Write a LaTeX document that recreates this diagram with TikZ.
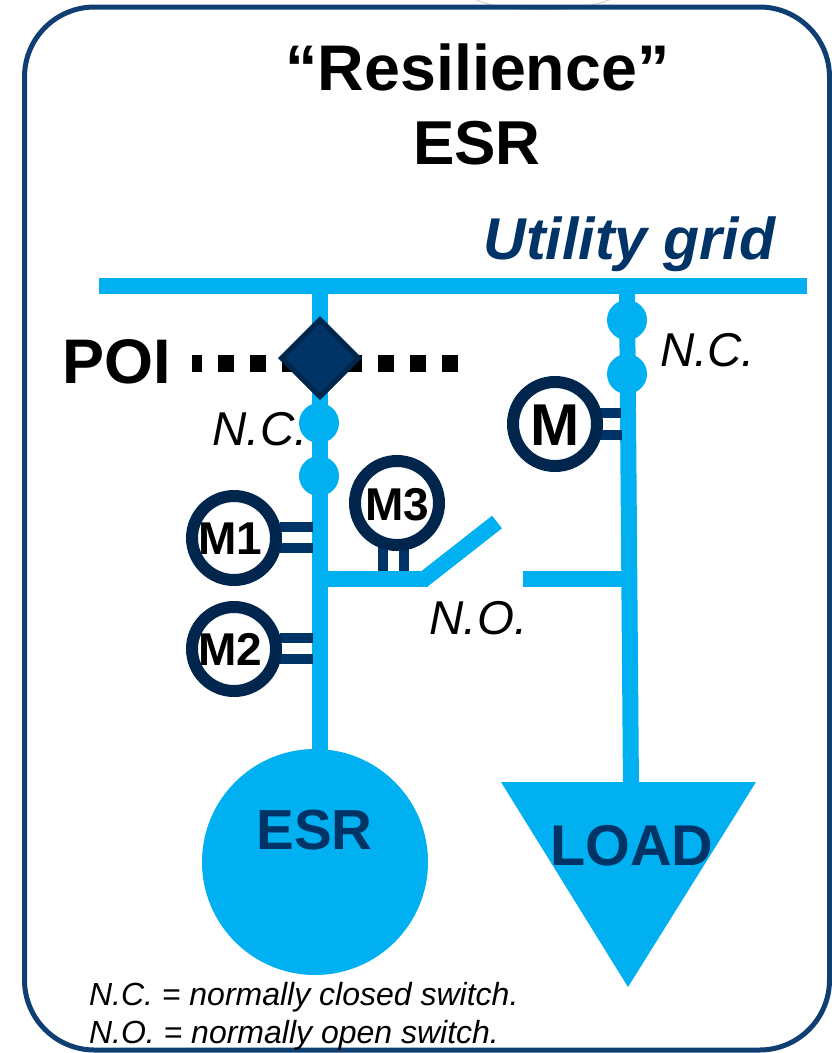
\documentclass[tikz,border=0pt]{standalone}
\usepackage{fontspec}
\setmainfont{Liberation Sans}
\usetikzlibrary{shapes.geometric,calc}
\definecolor{cy}{HTML}{00B0F0}
\definecolor{navy}{HTML}{00264D}
\definecolor{bar}{HTML}{003366}
\definecolor{frm}{HTML}{0F3E73}
\newcommand{\fsz}[1]{\fontsize{#1}{#1}\selectfont}
\tikzset{
  wire/.style={draw=cy,line width=16pt},
  twin/.style={draw=bar,line width=10pt},
  meter/.style={circle,draw=navy,line width=12pt,fill=white,minimum size=84pt,inner sep=0pt,outer sep=0pt},
  sw/.style={circle,fill=cy,minimum size=40pt,inner sep=0pt,outer sep=0pt},
  lab/.style={inner sep=0pt,outer sep=0pt,anchor=center},
  ital/.style={lab,font=\fsz{47.5}\itshape},
  mtxt/.style={lab,font=\fsz{46}\bfseries},
  foot/.style={lab,anchor=west,font=\fsz{32}\itshape}
}
\begin{document}
\begin{tikzpicture}[x=1pt,y=-1pt]
\useasboundingbox (0,0) rectangle (832,1053);
\draw[black!18,line width=1pt] (470,-3) .. controls (500,14) and (585,14) .. (615,-3);
\node[draw=frm,line width=5pt,rounded corners=70pt,minimum width=805pt,minimum height=1043pt,inner sep=0pt] (frame) at (427,528.5) {};
% nodes
\coordinate (busL) at (99,286); \coordinate (busR) at (807,286);
\coordinate (t1) at (320,286); \coordinate (t2) at (627,286);
\node[circle,fill=cy,minimum size=226pt,inner sep=0pt] (esr) at (315,862) {};
\coordinate (la) at (501,782); \coordinate (lb) at (756,782); \coordinate (lc) at (628,987);
\fill[cy] (la) -- (lb) -- (lc) -- cycle;
\coordinate (esrtop) at (320,760); \coordinate (loadtop) at (631,790);
\draw[wire] (busL) -- (busR);
\draw[wire] (t1) -- (esrtop);
\draw[wire] (t2) -- (loadtop);
% POI
\coordinate (dl) at (192,363.5); \coordinate (dr) at (458,363.5);
\draw[black,line width=17pt,dash pattern=on 16pt off 16pt,dash phase=6pt] (dl) -- (dr);
\node[diamond,draw=navy,fill=bar,line width=5pt,minimum width=79pt,minimum height=79pt,inner sep=0pt] (poi) at (320,358) {};
\node[sw] (sa) at (319,423) {};
\node[sw] (sb) at (319,476) {};
\node[sw] (sc) at (627,320) {};
\node[sw] (sd) at (627,374) {};
% branch
\coordinate (jn) at (320,579); \coordinate (hinge) at (428,579);
\coordinate (bl0) at (423,580); \coordinate (bl1) at (497,522);
\coordinate (st0) at (523,579); \coordinate (st1) at (627,579);
\draw[twin] (280,527) coordinate (a1) -- (313,527) coordinate (a2);
\draw[twin] (280,548) coordinate (a3) -- (313,548) coordinate (a4);
\draw[twin] (280,638) coordinate (b1) -- (313,638) coordinate (b2);
\draw[twin] (280,659) coordinate (b3) -- (313,659) coordinate (b4);
\draw[twin] (383,545) coordinate (c1) -- (383,572) coordinate (c2);
\draw[twin] (404,545) coordinate (c3) -- (404,572) coordinate (c4);
\draw[twin] (600,413) coordinate (d1) -- (621,413) coordinate (d2);
\draw[twin] (600,435) coordinate (d3) -- (622,435) coordinate (d4);
\draw[wire] (jn) -- (hinge);
\draw[wire] (bl0) -- (bl1);
\draw[wire] (st0) -- (st1);
\node[meter] (m1) at (234,538) {};
\node[meter] (m2) at (234,649) {};
\node[meter] (m3) at (397,503) {};
\node[meter] (m) at (555,424) {};
\node[mtxt] (m1t) at (230,539) {M1};
\node[mtxt] (m2t) at (230,649) {M2};
\node[mtxt] (m3t) at (397,505) {M3};
\node[lab,font=\fsz{59}\bfseries] (mt) at (555,425) {M};
% text
\node[lab,font=\fsz{64.5}\bfseries] (title1) at (477.5,67) {“Resilience”};
\node[lab,font=\fsz{62}\bfseries] (title2) at (477,143) {ESR};
\node[lab,font=\fsz{59}\bfseries\itshape,text=bar] (ug) at (629.5,244) {Utility grid};
\node[lab,font=\fsz{63}\bfseries] (poit) at (117,362) {POI};
\node[ital] (nc1) at (260,429) {N.C.};
\node[ital] (nc2) at (707.5,350) {N.C.};
\node[ital] (no) at (478.5,618) {N.O.};
\node[lab,font=\fsz{56.5}\bfseries,text=bar] (esrt) at (314.5,830) {ESR};
\node[lab,font=\fsz{57.5}\bfseries,text=bar] (loadt) at (632,846) {LOAD};
\node[foot] (f1) at (89,997) {N.C. = normally closed switch.};
\node[foot] (f2) at (89,1035) {N.O. = normally open switch.};
\end{tikzpicture}
\end{document}
